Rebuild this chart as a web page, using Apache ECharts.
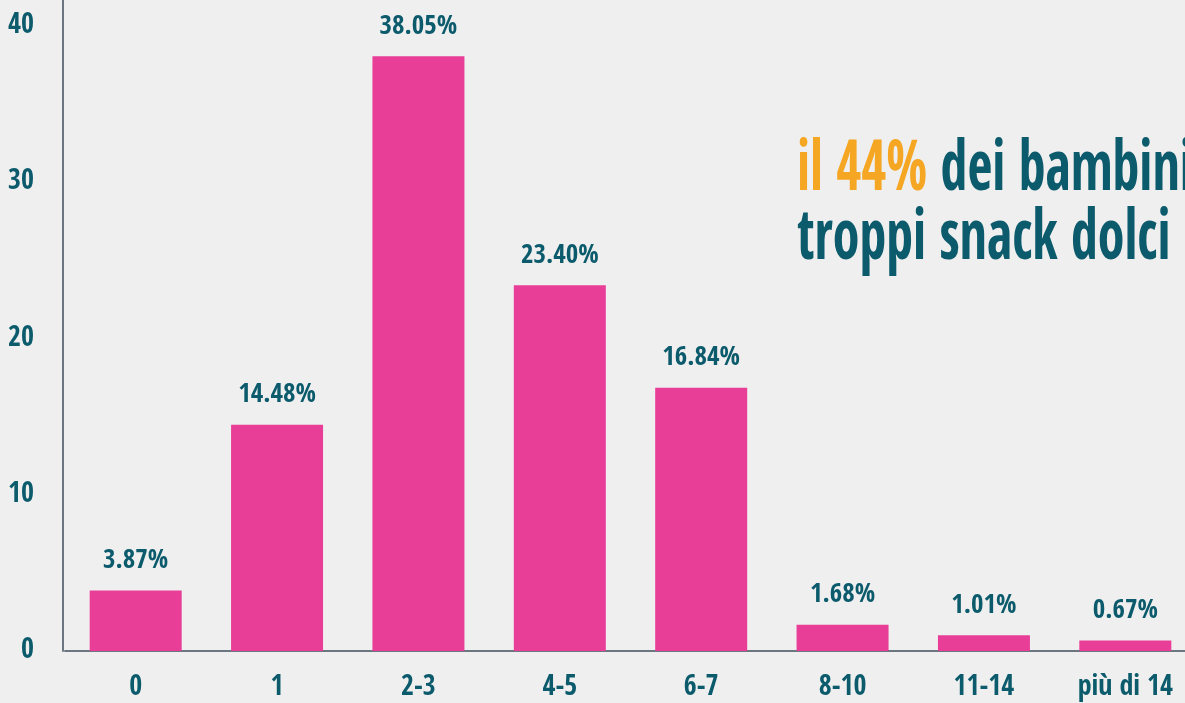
<!DOCTYPE html>
<html><head><meta charset="utf-8">
<script src="https://cdn.jsdelivr.net/npm/echarts@6/dist/echarts.min.js"></script>
<style>html,body{margin:0;padding:0;background:#efefef;overflow:hidden;width:1185px;height:703px;}
#wrap{position:relative;width:1185px;height:703px;overflow:hidden;}
#c{position:absolute;left:0;top:0;width:1196px;height:703px;}</style>
</head><body><div id="wrap"><div id="c"></div></div>
<script>
const categories = ['0', '1', '2-3', '4-5', '6-7', '8-10', '11-14', 'più di 14'];
const values = [3.87, 14.48, 38.05, 23.40, 16.84, 1.68, 1.01, 0.67];
const yTicks = [0, 10, 20, 30, 40];
const headline1 = ['il 44%', 'dei bambini'];
const headline2 = 'troppi snack dolci';

const TEAL = '#0c5b6c';
const FONT = '"Open Sans Condensed", "Roboto Condensed", sans-serif';
const chart = echarts.init(document.getElementById('c'));
chart.setOption({
  backgroundColor: '#efefef',
  animation: false,
  grid: { left: 65, top: 0, bottom: 52, right: 0, containLabel: false },
  xAxis: {
    type: 'category', data: categories,
    axisLine: { lineStyle: { color: '#6b7680', width: 2 } },
    axisTick: { show: false },
    axisLabel: { interval: 0, color: TEAL, fontFamily: FONT, fontWeight: 'bold', fontSize: 28, margin: 23 }
  },
  yAxis: {
    type: 'value', min: 0, max: 41.65, interval: 10, offset: 2,
    axisLine: { show: true, lineStyle: { color: '#6b7680', width: 2 } },
    axisTick: { show: false },
    splitLine: { show: false },
    axisLabel: { color: TEAL, fontFamily: FONT, fontWeight: 'bold', fontSize: 28, margin: 29, showMaxLabel: false,
      formatter: v => yTicks.includes(v) ? String(v) : '' }
  },
  series: [{
    type: 'bar', data: values, barWidth: 92,
    itemStyle: { color: '#e83e98' },
    label: { show: true, position: 'top', distance: 16, color: TEAL, fontFamily: FONT, fontWeight: 'bold', fontSize: 27,
      formatter: p => p.value.toFixed(2) + '%' }
  }],
  graphic: [
    { type: 'text', x: 797, y: 137, scaleY: 1.3,
      style: { text: '{o|' + headline1[0] + '} {t|' + headline1[1] + '}', fontFamily: FONT, fontWeight: 'bold', fontSize: 54, verticalAlign: 'top',
        rich: { o: { fill: '#f5a623', fontFamily: FONT, fontWeight: 'bold', fontSize: 54 }, t: { fill: TEAL, fontFamily: FONT, fontWeight: 'bold', fontSize: 54 } } } },
    { type: 'text', x: 797, y: 206, scaleY: 1.3,
      style: { text: headline2, fill: TEAL, fontFamily: FONT, fontWeight: 'bold', fontSize: 54, verticalAlign: 'top' } }
  ]
});
</script></body></html>
